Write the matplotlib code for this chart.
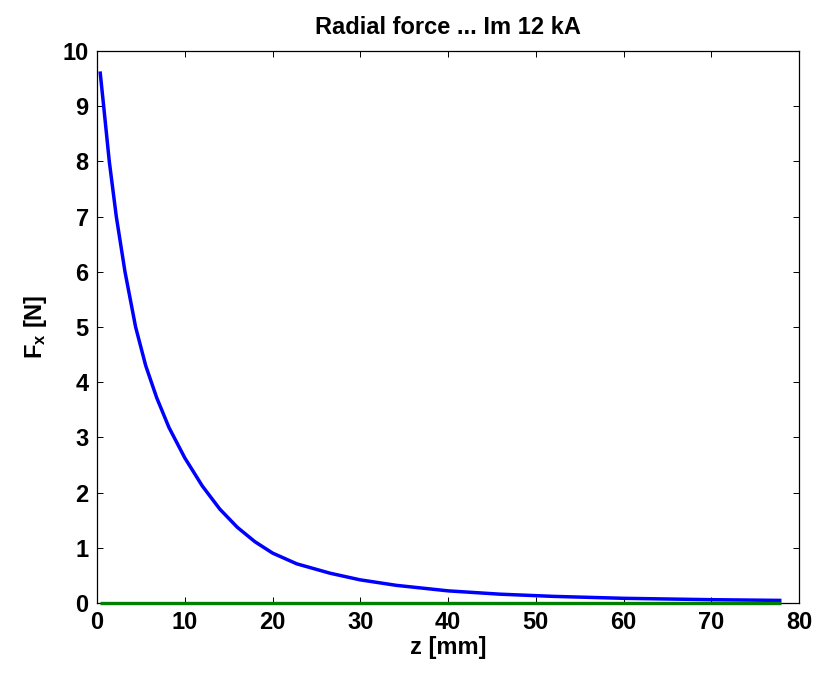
import matplotlib
matplotlib.use("Agg")
import matplotlib.pyplot as plt

plt.rcParams['font.family'] = ['Liberation Sans', 'DejaVu Sans']
plt.rcParams['font.weight'] = 'bold'
plt.rcParams['mathtext.fontset'] = 'custom'
plt.rcParams['mathtext.rm'] = 'Liberation Sans:bold'
plt.rcParams['mathtext.bf'] = 'Liberation Sans:bold'
plt.rcParams['mathtext.it'] = 'Liberation Sans:bold'

z_mm = [0.35, 0.76, 1.40, 2.2, 3.19, 4.40, 5.55, 6.8, 8.2, 10.0, 12.0, 14.0,
        16.0, 18.0, 20.0, 22.76, 26.55, 29.97, 34.1, 40.0, 45.9, 52.0,
        60.0, 70.0, 78.0]
fx_n = [9.63, 9.0, 8.0, 7.0, 6.0, 5.0, 4.3, 3.72, 3.18, 2.63, 2.12, 1.70,
        1.37, 1.11, 0.905, 0.71, 0.54, 0.42, 0.32, 0.22, 0.16, 0.12,
        0.085, 0.06, 0.047]
zero_z = [0.35, 78.0]
zero_f = [0.0, 0.0]

xticks = [0, 10, 20, 30, 40, 50, 60, 70, 80]
yticks = [0, 1, 2, 3, 4, 5, 6, 7, 8, 9, 10]

fig = plt.figure(figsize=(8.18, 6.75), dpi=100)
ax = fig.add_axes([97/818, 1-603/675, (799-97)/818, (603-51)/675])

ax.plot(z_mm, fx_n, color=(0, 0, 1), lw=2.5, solid_capstyle='butt',
        solid_joinstyle='round', zorder=3)
ax.plot(zero_z, zero_f, color=(0, 0.5, 0), lw=2.4, solid_capstyle='butt',
        clip_on=False, zorder=4)

ax.set_xlim(0, 80)
ax.set_ylim(0, 10)
ax.set_xticks(xticks)
ax.set_yticks(yticks)
ax.tick_params(direction='in', length=4.5, width=0.7, top=True, right=True,
               labelsize=17, pad=6)
for lab in ax.get_xticklabels() + ax.get_yticklabels():
    lab.set_fontweight('bold')
for s in ax.spines.values():
    s.set_linewidth(0.9)

ax.set_title('Radial force ... Im 12 kA', fontsize=17, fontweight='bold', pad=12)
ax.set_xlabel('z [mm]', fontsize=17, fontweight='bold', labelpad=1)
ax.set_ylabel(r'F$_\mathbf{x}$ [N]', fontsize=17, fontweight='bold', labelpad=10)

fig.savefig('out.png', dpi=100)
